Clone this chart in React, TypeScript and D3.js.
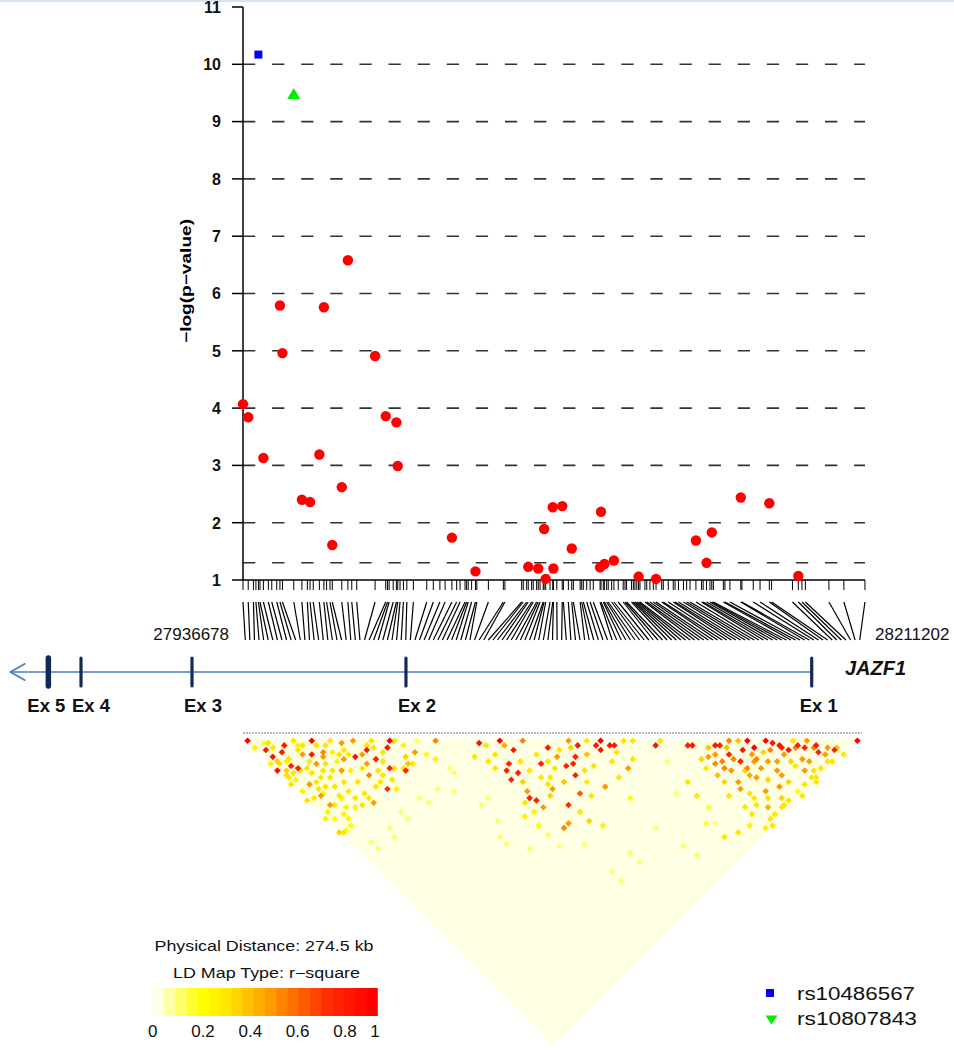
import React from "react";
import * as d3 from "d3";

const START_BP = 27936678;
const END_BP = 28211202;
const DIST_KB = 274.5;

// SNP physical positions (kb offset from START_BP)
const snpKb = [0, 2.3, 4.6, 5.7, 6.8, 7.5, 9.0, 11.2, 12.7, 14.9, 16.3, 17.4, 22.4, 26.0, 28.4, 29.6, 31.0, 33.7, 35.7, 36.9, 38.4, 39.4, 43.6, 46.3, 48.0, 50.2, 58.3, 63.0, 63.8, 64.5, 66.3, 67.7, 68.3, 69.3, 70.8, 72.3, 75.2, 81.1, 84.0, 86.9, 89.2, 92.2, 94.3, 95.8, 98.0, 98.7, 99.4, 100.9, 102.6, 103.2, 108.3, 114.9, 115.6, 123.0, 123.7, 125.2, 125.9, 127.4, 128.1, 129.6, 130.3, 131.1, 132.5, 132.9, 133.6, 135.5, 136.7, 137.0, 138.5, 140.9, 141.4, 143.6, 145.1, 145.8, 148.8, 149.5, 150.2, 151.7, 153.2, 154.6, 157.6, 158.0, 159.0, 159.5, 160.5, 161.2, 162.7, 163.7, 165.6, 167.8, 168.6, 169.3, 171.5, 172.3, 173.0, 173.8, 174.6, 175.2, 177.4, 178.2, 179.6, 181.1, 182.3, 184.8, 185.5, 187.7, 189.9, 190.7, 192.2, 194.4, 195.8, 197.3, 199.9, 202.4, 203.1, 204.6, 206.1, 206.9, 207.6, 212.0, 212.7, 214.9, 219.7, 220.2, 225.2, 228.2, 232.3, 233.3, 242.5, 245.1, 246.7, 248.2, 258.6, 265.2, 274.5];

// Associated SNPs (kb, -log p)
const assocKb = [0.0, 2.3, 9.0, 16.3, 17.4, 26.0, 29.6, 33.7, 35.7, 39.4, 43.6, 46.3, 58.3, 63.0, 67.7, 68.3, 92.2, 102.6, 125.9, 130.3, 132.9, 133.6, 136.7, 137.0, 140.9, 145.1, 157.6, 158.0, 159.5, 163.7, 174.6, 182.3, 199.9, 204.6, 206.9, 219.7, 232.3, 245.1];
const assocLogP = [4.07, 3.84, 3.13, 5.79, 4.96, 2.40, 2.36, 3.19, 5.76, 1.61, 2.62, 6.58, 4.91, 3.86, 3.75, 2.99, 1.74, 1.15, 1.23, 1.20, 1.89, 1.02, 2.27, 1.20, 2.29, 1.55, 1.22, 2.19, 1.28, 1.34, 1.06, 1.02, 1.69, 1.30, 1.83, 2.44, 2.34, 1.07];

// highlighted SNPs
const hiNames = ["rs10486567", "rs10807843"];
const hiKb = [6.8, 22.4];
const hiLogP = [10.17, 9.48];

const yTicks = [1, 2, 3, 4, 5, 6, 7, 8, 9, 10, 11];
const gridVals = [1.3, 2, 3, 4, 5, 6, 7, 8, 9, 10];

// Gene JAZF1 (bp)
const geneStartBp = 27834000;
const exonNames = ["Ex 1", "Ex 2", "Ex 3", "Ex 4", "Ex 5"];
const exonBp = [28187680, 28008600, 27914170, 27865180, 27850770];

// LD r-square cells [i, j, r2]; all other pairs ~0
const ldCells: [number, number, number][] = [
  [0,1,1],[0,4,0.25],[3,5,0.15],[2,7,0.9],[2,10,0.9],[5,11,0.9],[7,10,0.9],[0,14,0.95],[4,16,0.85],[5,18,0.85],[14,15,1],[11,18,0.9],[14,20,0.6],[13,21,0.55],[20,22,0.55],[23,24,0.5],[20,28,0.9],[22,29,0.5],[24,29,0.9],[24,33,0.85],[31,32,1],[29,33,0.9],[25,38,0.85],[28,42,0.85],[20,42,0.8],[19,35,0.6],[14,42,0.55],[14,28,0.55],[4,24,0.5],[4,29,0.5],[4,33,0.5],[0,41,0.35],[4,42,0.2],[0,35,0.25],[0,27,0.3],[1,24,0.25],[2,20,0.25],[1,17,0.3],[4,14,0.25],[0,11,0.25],[25,35,0.3],[22,36,0.3],[23,41,0.3],[22,44,0.25],[30,41,0.4],[34,40,0.5],[36,43,0.2],[41,42,0.6],[37,46,0.25],
  [25,51,0.1],[26,54,0.08],[38,51,0.1],[38,53,0.08],[31,53,0.08],[34,57,0.08],[37,66,0.08],[40,66,0.08],[34,77,0.08],[34,80,0.08],[38,86,0.08],[37,73,0.08],[12,51,0.08],[11,54,0.08],[5,53,0.08],[5,50,0.08],[18,50,0.08],[18,53,0.08],
  [11,14,0.3],[10,13,0.25],[14,17,0.3],[16,19,0.3],[16,22,0.25],[15,25,0.25],[12,26,0.3],[10,27,0.3],[12,31,0.3],[15,34,0.3],[11,37,0.3],[14,38,0.3],[7,37,0.25],[5,40,0.25],[2,37,0.2],[2,28,0.3],[19,32,0.3],[16,30,0.25],[21,32,0.5],[17,26,0.5],[17,24,0.3],[10,21,0.5],[9,19,0.3],[9,16,0.5],[9,14,0.3],[1,18,0.3],[2,16,0.35],[3,18,0.3],[0,20,0.3],[32,33,0.3],[33,36,0.25],[37,38,0.1],[27,28,0.3],[18,19,0.3],[10,11,0.3],
  [4,6,0.3],[4,8,0.3],[2,12,0.35],[2,13,0.3],[5,14,0.3],[5,19,0.3],[7,20,0.3],[7,22,0.3],[8,25,0.3],[7,28,0.3],[5,27,0.3],[5,29,0.25],[9,30,0.3],[8,33,0.3],[8,34,0.25],[11,34,0.3],[5,34,0.3],[2,34,0.25],[5,38,0.25],[9,39,0.25],[11,40,0.3],[14,40,0.3],[18,39,0.3],[20,39,0.3],[22,38,0.3],[26,39,0.3],[28,41,0.3],[31,39,0.35],[31,42,0.3],[27,33,0.3],[26,30,0.3],[25,28,0.3],[19,24,0.3],[19,26,0.3],[12,23,0.3],[10,24,0.3],[6,25,0.3],[1,42,0.3],[2,42,0.2],
  [51,54,0.3],[55,58,0.45],[56,61,0.9],[52,63,0.85],[50,64,0.85],[52,67,0.85],[49,67,0.85],[59,70,0.85],[64,68,0.9],[49,75,0.85],[50,77,0.85],[55,56,1],[50,52,0.9],[60,61,0.6],[48,58,0.3],[48,61,0.3],[51,70,0.35],[56,73,0.3],[56,76,0.3],[50,80,0.55],[50,73,0.5],[44,78,0.25],[45,83,0.2],[45,87,0.1],[55,69,0.3],[61,71,0.3],
  [70,71,0.5],[71,74,0.9],[74,75,0.3],[75,78,0.9],[77,78,1],[75,80,0.9],[78,81,0.9],[79,82,0.9],[68,76,0.85],[66,77,0.85],[64,76,0.85],[64,80,0.85],[61,85,0.7],[56,85,0.8],[50,89,0.6],[52,89,0.5],[57,93,0.35],[64,72,0.5],[56,78,0.55],[67,81,0.3],[70,82,0.3],[77,90,0.5],[80,89,0.3],[68,89,0.5],[71,97,0.2],[88,91,0.9],[87,106,0.3],[86,111,0.3],[82,83,0.3],[84,85,0.3],[90,91,0.3],
  [66,71,0.3],[61,74,0.3],[60,79,0.4],[65,84,0.3],[63,88,0.3],[57,89,0.3],[75,85,0.3],[78,84,0.3],[73,90,0.3],[58,75,0.3],[69,73,0.35],[71,78,0.4],[46,54,0.3],[51,58,0.3],[55,65,0.3],[60,67,0.3],[47,75,0.3],[47,79,0.25],[54,79,0.35],
  [86,116,0.15],[82,119,0.15],[84,121,0.1],[73,124,0.1],[72,119,0.1],[70,109,0.1],[59,109,0.1],[59,113,0.1],[51,109,0.1],[51,113,0.1],[51,97,0.1],[45,92,0.1],[59,97,0.25],[87,97,0.1],[82,106,0.1],
  [96,99,0.9],[95,98,0.85],[101,104,0.9],[102,105,0.85],[105,106,0.6],[109,110,1],[109,113,1],[113,114,1],[114,116,0.9],[115,118,0.9],[116,121,0.9],[119,122,0.85],[120,124,0.85],[122,128,0.85],[123,126,0.9],[126,131,0.85],[133,134,1],[102,109,0.85],[103,113,0.85],[106,111,0.9],[98,111,0.6],[99,109,0.6],[102,118,0.45],[106,119,0.55],[111,121,0.55],[109,125,0.5],[114,124,0.35],[114,126,0.3],[112,117,0.6],[114,121,0.5],[122,132,0.3],[115,132,0.3],[109,132,0.2],[106,127,0.5],[102,125,0.5],[98,124,0.3],[97,119,0.5],[98,117,0.55],[97,132,0.3],[99,132,0.3],[87,128,0.3],[83,126,0.3],[99,103,0.4],[97,105,0.5],[97,108,0.6],[102,111,0.6],[107,116,0.6],[117,126,0.55],
  [99,113,0.55],[103,116,0.6],[103,120,0.55],[105,123,0.35],[119,120,0.3],[115,129,0.5],[117,131,0.3],[119,132,0.3],[98,122,0.3],[97,126,0.3],[99,129,0.45],[102,132,0.3],[105,132,0.3],[112,132,0.3],[115,119,0.85],[106,116,0.55],[110,116,0.35],[102,116,0.35],[118,128,0.5],[116,133,0.3],[125,129,0.5],[123,133,0.3],
  [99,106,0.5],[103,107,0.4],[107,108,0.4],[107,114,0.5],[109,119,0.5],[109,123,0.5],[109,128,0.35],[118,122,0.6],[122,123,0.5],[122,126,0.6],[123,130,0.5],[127,131,0.4],[127,134,0.3],[115,134,0.3],[109,134,0.3],[104,130,0.35],[101,127,0.3],[94,124,0.3],[93,118,0.3],[95,114,0.35],[95,111,0.4],[94,107,0.3],[95,104,0.35],[96,134,0.3],[103,132,0.3],[94,127,0.3],[91,129,0.25],[94,133,0.25]
];

const legendTicks = [0, 0.2, 0.4, 0.6, 0.8, 1];

const FONT = "'Liberation Sans', Arial, Helvetica, sans-serif";

export default function App() {
  const W = 954, H = 1050;
  const x = d3.scaleLinear().domain([START_BP, END_BP]).range([243, 865]);
  const y = d3.scaleLinear().domain([1, 11]).range([580, 7]);
  const bp = (kb: number) => START_BP + kb * 1000;

  const N = snpKb.length;
  const ldLeft = 243, ldWidth = 619, ldTop = 738.5;
  const s = ldWidth / N;
  const idxX = (k: number) => ldLeft + (k + 0.5) * s;

  const colorScale = d3.scaleLinear<string>()
    .domain([0, 0.2, 0.3, 0.5, 0.8, 1])
    .range(["#FFFFE4", "#FFFF00", "#FFEC00", "#FFA500", "#FF2A00", "#FF0000"])
    .interpolate(d3.interpolateRgb);
  const nSteps = 20;
  const ldColor = (v: number) => colorScale(Math.round(v * (nSteps - 1)) / (nSteps - 1));

  const diamond = (cx: number, cy: number, h: number) =>
    `M${cx},${cy - h}L${cx + h},${cy}L${cx},${cy + h}L${cx - h},${cy}Z`;

  const legX = d3.scaleLinear().domain([0, 1]).range([152.7, 377.3]);
  const legLabelX = d3.scaleLinear().domain([0, 0.2, 0.8, 1]).range([152.7, 203, 345, 375]);
  const stepW = (legX(1) - legX(0)) / nSteps;

  const exonLabelDx = [-12, -8, -8, -9, -21];

  const apexX = (idxX(0) + idxX(N - 1)) / 2;
  const apexY = ldTop + ((N - 1) * s) / 2;

  const sortedCells = [...ldCells].sort((a, b) => a[2] - b[2]);

  return (
    <svg width={W} height={H} style={{ position: "absolute", left: 0, top: 0, display: "block", background: "#fff" }} fontFamily={FONT}>
      <rect x={0} y={0} width={W} height={2} fill="#d6e3f3" />

      {/* grid */}
      {gridVals.map((g) => (
        <line key={"g" + g} x1={243} x2={865} y1={y(g)} y2={y(g)} stroke="#333" strokeWidth={1.6} strokeDasharray="12.3,16.8" />
      ))}

      {/* y axis */}
      <line x1={243} x2={243} y1={y(11)} y2={y(1)} stroke="#000" strokeWidth={1.5} />
      {yTicks.map((t) => (
        <g key={"yt" + t}>
          <line x1={232} x2={243} y1={y(t)} y2={y(t)} stroke="#000" strokeWidth={1.5} />
          <text x={221} y={y(t) + 5.8} textAnchor="end" fontSize={16} fontWeight="bold" fill="#111">{t}</text>
        </g>
      ))}
      <text transform={`translate(191,281) rotate(-90)`} textAnchor="middle" fontSize={14} fontWeight="bold" textLength={124} lengthAdjust="spacingAndGlyphs">−log(p−value)</text>

      {/* x axis with SNP rug */}
      <line x1={243} x2={865} y1={580} y2={580} stroke="#000" strokeWidth={1.5} />
      {snpKb.map((k, i) => (
        <line key={"r" + i} x1={x(bp(k))} x2={x(bp(k))} y1={580} y2={590} stroke="#000" strokeWidth={1} />
      ))}

      {/* points */}
      {assocKb.map((k, i) => (
        <circle key={"p" + i} cx={x(bp(k))} cy={y(assocLogP[i])} r={5.2} fill="#FF0000" />
      ))}
      <rect x={x(bp(hiKb[0])) - 4} y={y(hiLogP[0]) - 4} width={8} height={8} fill="#0000FF" />
      <path d={`M${x(bp(hiKb[1]))},${y(hiLogP[1]) - 6}L${x(bp(hiKb[1])) + 6.5},${y(hiLogP[1]) + 5}L${x(bp(hiKb[1])) - 6.5},${y(hiLogP[1]) + 5}Z`} fill="#00EE00" />

      {/* connectors */}
      {snpKb.map((k, i) => (
        <line key={"c" + i} x1={x(bp(k))} y1={602} x2={idxX(i)} y2={640} stroke="#000" strokeWidth={1.2} />
      ))}
      <text x={229} y={640} textAnchor="end" fontSize={17} fill="#111">{START_BP}</text>
      <text x={875} y={640} textAnchor="start" fontSize={17} fill="#111">{END_BP}</text>

      {/* gene track */}
      <line x1={x(geneStartBp)} x2={x(exonBp[0])} y1={672} y2={672} stroke="#4a7ebb" strokeWidth={1.6} />
      <path d={`M${x(geneStartBp) + 15},663.5L${x(geneStartBp)},672L${x(geneStartBp) + 15},680.5`} fill="none" stroke="#4a7ebb" strokeWidth={1.6} />
      {exonBp.map((b, i) => (
        <g key={"ex" + i}>
          <line x1={x(b)} x2={x(b)} y1={658} y2={686} stroke="#102a56" strokeWidth={i === 4 ? 5.5 : 3.2} strokeLinecap="round" />
          <text x={x(b) + exonLabelDx[i]} y={712} fontSize={18} fontWeight="bold" fill="#111" textLength={38} lengthAdjust="spacingAndGlyphs">{exonNames[i]}</text>
        </g>
      ))}
      <text x={845} y={675} fontSize={20} fontWeight="bold" fontStyle="italic" fill="#111">JAZF1</text>

      {/* LD map */}
      <line x1={243} x2={862} y1={733} y2={733} stroke="#777" strokeWidth={1} strokeDasharray="2,1" />
      <path d={`M${idxX(0)},${ldTop}L${idxX(N - 1)},${ldTop}L${apexX},${apexY}Z`} fill={ldColor(0)} />
      {sortedCells.map(([i, j, r], n) => {
        const cx = (idxX(i) + idxX(j)) / 2;
        const cy = ldTop + ((j - i) * s) / 2;
        return <path key={"ld" + n} d={diamond(cx, cy, s * 0.72)} fill={ldColor(r)} />;
      })}

      {/* LD legend */}
      <text x={264} y={951} textAnchor="middle" fontSize={14} fill="#111" textLength={219} lengthAdjust="spacingAndGlyphs">{`Physical Distance: ${DIST_KB} kb`}</text>
      <text x={266.5} y={978} textAnchor="middle" fontSize={14} fill="#111" textLength={187} lengthAdjust="spacingAndGlyphs">LD Map Type: r−square</text>
      {d3.range(nSteps).map((k) => (
        <rect key={"ls" + k} x={legX(0) + k * stepW} y={988} width={stepW + 0.5} height={28} fill={ldColor(k / (nSteps - 1))} />
      ))}
      {legendTicks.map((t) => (
        <text key={"lt" + t} x={legLabelX(t)} y={1037} textAnchor="middle" fontSize={17} fill="#111">{t}</text>
      ))}

      {/* SNP legend */}
      <rect x={766} y={989} width={8} height={8} fill="#0000FF" />
      <text x={797} y={1000} fontSize={18} fill="#111" textLength={118} lengthAdjust="spacingAndGlyphs">{hiNames[0]}</text>
      <path d="M765.5,1015.5L777.5,1015.5L771.5,1024.5Z" fill="#00EE00" />
      <text x={797} y={1025} fontSize={18} fill="#111" textLength={120} lengthAdjust="spacingAndGlyphs">{hiNames[1]}</text>
    </svg>
  );
}
